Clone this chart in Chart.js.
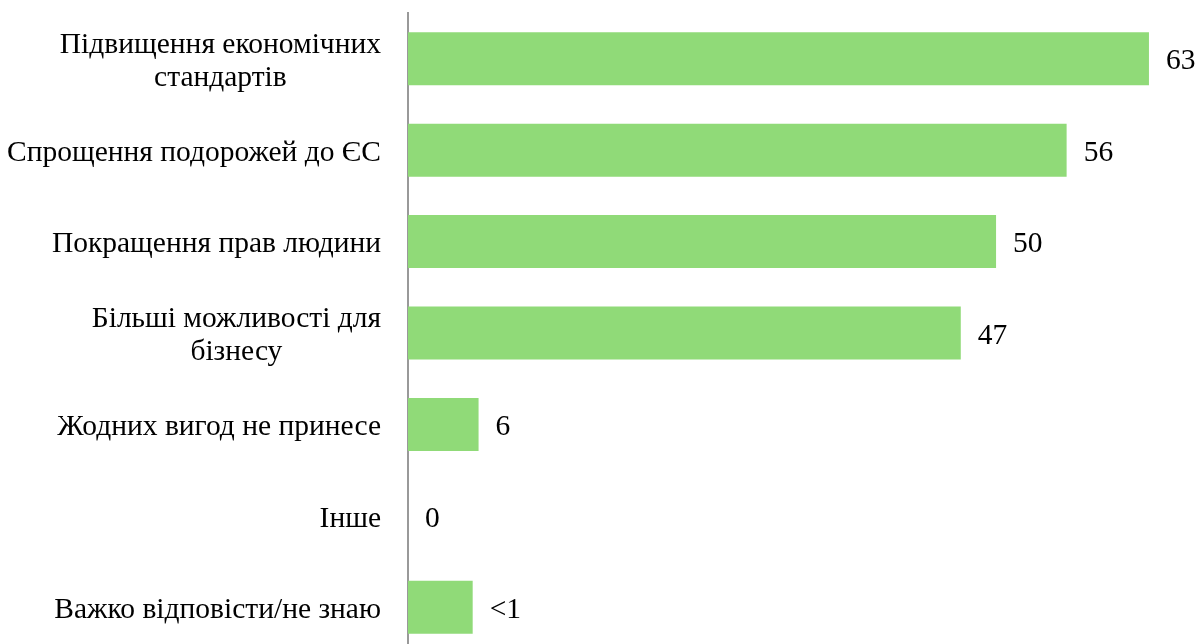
<!DOCTYPE html>
<html>
<head>
<meta charset="utf-8">
<script src="https://cdn.jsdelivr.net/npm/chart.js@4/dist/chart.umd.min.js"></script>
<style>
  html, body { margin: 0; padding: 0; background: #fff; overflow: hidden; }
  #wrap { width: 1204px; height: 660px; position: relative; }
</style>
</head>
<body>
<div id="wrap"><canvas id="chart"></canvas></div>
<script>
// Data
const categories = [
  ['Підвищення економічних', 'стандартів'],
  ['Спрощення подорожей до ЄС'],
  ['Покращення прав людини'],
  ['Більші можливості для', 'бізнесу'],
  ['Жодних вигод не принесе'],
  ['Інше'],
  ['Важко відповісти/не знаю']
];
const values = [63, 56, 50, 47, 6, 0, 5.5];
const valueLabels = ['63', '56', '50', '47', '6', '0', '<1'];

const FONT = '29.5px "Liberation Serif", "Times New Roman", serif';

// Category labels: block right-aligned to the axis, lines centred inside the block
const categoryLabels = {
  id: 'categoryLabels',
  afterDraw(chart) {
    const ctx = chart.ctx;
    const y = chart.scales.y;
    const right = chart.chartArea.left - 27;
    const lh = 33;
    ctx.save();
    ctx.font = FONT;
    ctx.fillStyle = '#000';
    ctx.textAlign = 'center';
    ctx.textBaseline = 'middle';
    categories.forEach((lines, i) => {
      const cy = y.getPixelForTick(i) + 3;
      const w = Math.max(...lines.map(l => ctx.measureText(l).width));
      const cx = right - w / 2;
      const top = cy - (lines.length - 1) * lh / 2;
      lines.forEach((l, j) => ctx.fillText(l, cx, top + j * lh));
    });
    ctx.restore();
  }
};

// Value labels at the outside end of the bars
const valueLabelPlugin = {
  id: 'valueLabels',
  afterDatasetsDraw(chart) {
    const ctx = chart.ctx;
    const meta = chart.getDatasetMeta(0);
    ctx.save();
    ctx.font = FONT;
    ctx.fillStyle = '#000';
    ctx.textAlign = 'left';
    ctx.textBaseline = 'middle';
    meta.data.forEach((bar, i) => {
      ctx.fillText(valueLabels[i], bar.x + 17, bar.y + 3);
    });
    ctx.restore();
  }
};

new Chart(document.getElementById('chart'), {
  type: 'bar',
  data: {
    labels: categories,
    datasets: [{
      data: values,
      backgroundColor: '#90DA78',
      borderWidth: 0,
      barPercentage: 0.58,
      categoryPercentage: 1
    }]
  },
  options: {
    indexAxis: 'y',
    responsive: true,
    maintainAspectRatio: false,
    animation: false,
    layout: { padding: { top: 13, bottom: 7, right: 8 } },
    plugins: { legend: { display: false }, tooltip: { enabled: false } },
    scales: {
      x: { display: false, min: 0, max: 67 },
      y: {
        grid: { display: false },
        border: { color: '#999', width: 2 },
        ticks: { display: false },
        afterFit: s => { s.width = 408; }
      }
    }
  },
  plugins: [categoryLabels, valueLabelPlugin]
});
</script>
</body>
</html>
